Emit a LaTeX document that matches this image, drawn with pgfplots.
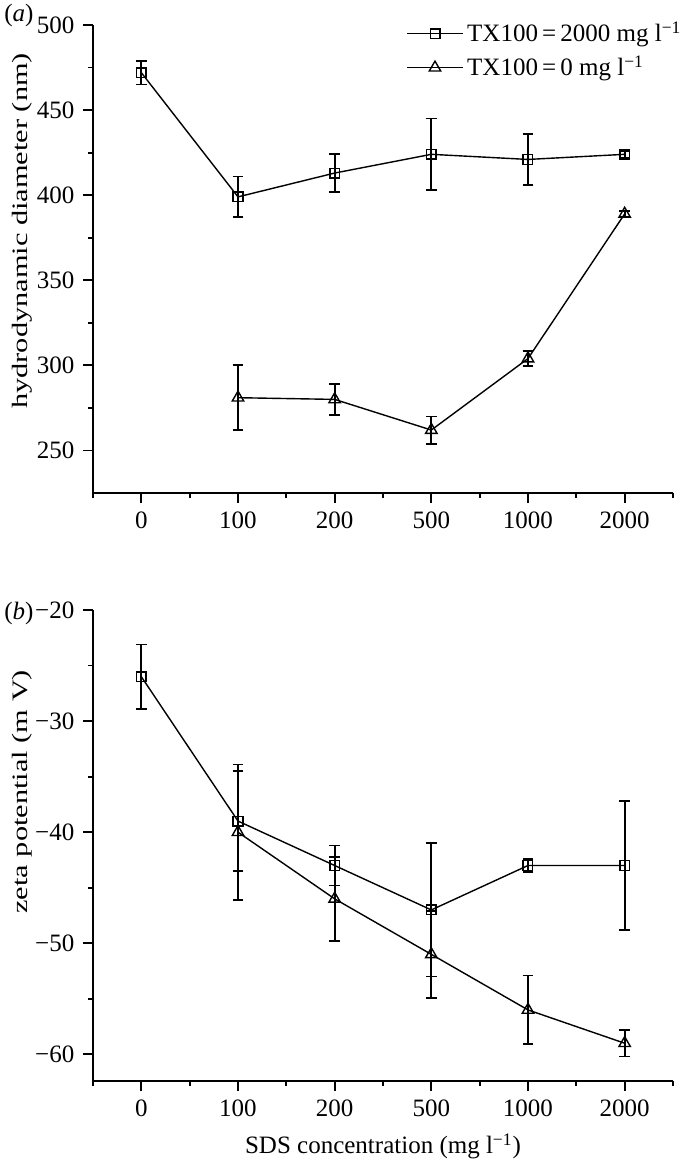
\documentclass[border=0pt]{standalone}
\usepackage{fontspec}
\setmainfont{Liberation Serif}
\usepackage{graphicx}
\usepackage{pgfplots}
\pgfplotsset{compat=1.18}

\pgfplotsset{
  myax/.style={
    scale only axis, width=290pt,
    axis x line*=bottom, axis y line*=left,
    axis line style={line width=1.1pt},
    xmin=-0.5, xmax=5.5,
    xtick={0,1,2,3,4,5}, xticklabels={0,100,200,500,1000,2000},
    minor xtick={-0.5,0.5,1.5,2.5,3.5,4.5,5.5},
    tick align=outside,
    major tick length=5pt, minor tick length=2.6pt,
    every tick/.style={line width=0.9pt, black},
    /pgf/number format/assume math mode=true,
    tick label style={font=\fontsize{12.5}{15}\selectfont},
    label style={font=\fontsize{12.5}{15}\selectfont},
    sqs/.style={black, line width=0.7pt, mark=square, mark size=2.4pt,
      mark options={fill=white, solid, line width=0.7pt},
      error bars/.cd, y dir=both, y explicit,
      error bar style={line width=0.9pt},
      error mark options={rotate=90, mark size=2.7pt, line width=0.9pt}},
    tri/.style={black, line width=0.7pt, mark=triangle, mark size=3.3pt,
      mark options={fill=white, solid, line width=0.7pt},
      error bars/.cd, y dir=both, y explicit,
      error bar style={line width=0.9pt},
      error mark options={rotate=90, mark size=2.7pt, line width=0.9pt}},
  }
}

\begin{document}
\fontsize{12.5}{15}\selectfont
\begin{tikzpicture}
\useasboundingbox (0,0) rectangle (340pt,-579.5pt);

% ---------- (a) ----------
\begin{axis}[myax,
  at={(46.5pt,-246.5pt)}, anchor=south west, height=234pt,
  ymin=225, ymax=500,
  ytick={250,300,350,400,450,500},
  minor ytick={275,325,375,425,475},
  ylabel={\scalebox{1.38}[1]{\fontsize{11}{13}\selectfont hydrodynamic diameter (nm)}},
  every axis y label/.style={at={(axis description cs:-0.122,0.56)}, rotate=90, anchor=center},
  legend cell align=left,
  legend style={draw=none, fill=none, at={(0.53,1.025)}, anchor=north west,
    font=\fontsize{12.5}{15}\selectfont, row sep=1pt},
  legend image code/.code={\draw[mark repeat=2,mark phase=2,#1] plot coordinates {(0pt,0pt) (13.75pt,0pt) (27.5pt,0pt)};},
]
\addplot+[sqs] coordinates {
  (0,472) +- (0,7)
  (1,399) +- (0,12)
  (2,413) +- (0,11)
  (3,424) +- (0,21)
  (4,421) +- (0,15)
  (5,424) +- (0,2)
};
\addlegendentry{TX100\,=\,2000 mg l\textsuperscript{−1}}
\addplot+[tri] coordinates {
  (1,281) +- (0,19)
  (2,280) +- (0,9)
  (3,262) +- (0,8)
  (4,304) +- (0,4.5)
  (5,389) +- (0,1.5)
};
\addlegendentry{TX100\,=\,0 mg l\textsuperscript{−1}}
\end{axis}

% ---------- (b) ----------
\begin{axis}[myax,
  at={(46.5pt,-540.5pt)}, anchor=south west, height=235.5pt,
  ymin=-62.4, ymax=-20,
  ytick={-60,-50,-40,-30,-20},
  yticklabels={−60,−50,−40,−30,−20},
  minor ytick={-55,-45,-35,-25},
  ylabel={\scalebox{1.38}[1]{\fontsize{11}{13}\selectfont zeta potential (m V)}},
  every axis y label/.style={at={(axis description cs:-0.122,0.614)}, rotate=90, anchor=center},
  xlabel={SDS concentration (mg l\textsuperscript{−1})},
]
\addplot+[sqs] coordinates {
  (0,-26) +- (0,2.9)
  (1,-39) +- (0,4.5)
  (2,-43) +- (0,1.8)
  (3,-47) +- (0,6)
  (4,-43) +- (0,0.6)
  (5,-43) +- (0,5.8)
};
\addplot+[tri] coordinates {
  (1,-40) +- (0,6.1)
  (2,-46) +- (0,3.8)
  (3,-51) +- (0,3.9)
  (4,-56) +- (0,3.1)
  (5,-59) +- (0,1.2)
};
\end{axis}

\node[anchor=west, inner sep=0pt] at (2pt,-7.5pt) {(\textit{a})};
\node[anchor=west, inner sep=0pt] at (2pt,-306.5pt) {(\textit{b})};
\end{tikzpicture}
\end{document}
